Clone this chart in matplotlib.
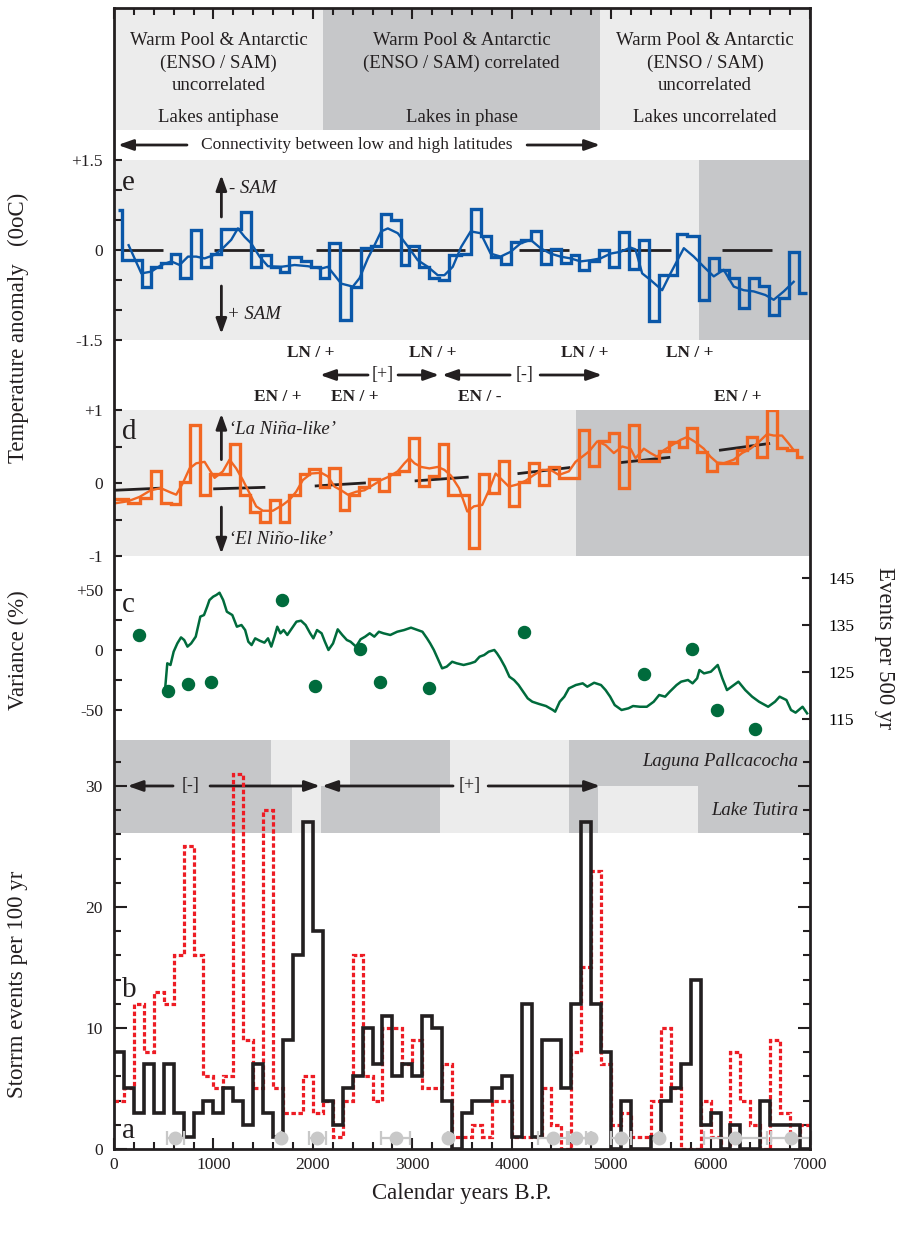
import numpy as np
import matplotlib
matplotlib.use("Agg")
import matplotlib.pyplot as plt
from matplotlib.ticker import FixedLocator, FixedFormatter

plt.rcParams["font.family"] = ["Liberation Serif", "DejaVu Serif"]

BLACK = "#231f20"
LIGHT = "#ececec"
DARK = "#c6c7c9"
BLUE = "#0a57a8"
ORANGE = "#f26722"
GREEN = "#006b3c"
RED = "#ed1c24"
GREY = "#c8c8c8"

# ---------------- header ----------------
head_edges = [0, 2100, 4890, 7000]
head_fill = [LIGHT, DARK, LIGHT]
head_text = ["Warm Pool & Antarctic\n(ENSO / SAM)\nuncorrelated",
             "Warm Pool & Antarctic\n(ENSO / SAM) correlated",
             "Warm Pool & Antarctic\n(ENSO / SAM)\nuncorrelated"]
head_lakes = ["Lakes antiphase", "Lakes in phase", "Lakes uncorrelated"]

# ---------------- e : SAM (blue) ----------------
e_edges = [40, 80, 280, 375, 476, 576, 660, 777, 878, 978, 1079, 1280, 1380, 1481,
           1581, 1665, 1765, 1883, 1983, 2067, 2167, 2268, 2385, 2486, 2586, 2687,
           2787, 2888, 2971, 3072, 3172, 3273, 3373, 3486, 3587, 3687, 3788, 3888,
           3989, 4089, 4190, 4290, 4391, 4491, 4592, 4675, 4776, 4876, 4977, 5077,
           5178, 5278, 5379, 5479, 5664, 5764, 5881, 5982, 6082, 6183, 6283, 6384,
           6484, 6585, 6685, 6786, 6886, 6970]
e_values = [0.67, -0.17, -0.61, -0.28, -0.22, -0.06, -0.46, 0.33, -0.29, -0.07,
            0.35, 0.64, -0.29, -0.08, -0.29, -0.37, -0.12, -0.19, -0.29, -0.47,
            0.11, -1.17, -0.61, 0.03, 0.07, 0.60, 0.50, -0.25, 0.07, -0.29,
            -0.46, -0.50, -0.08, -0.06, 0.69, 0.23, -0.12, -0.23, 0.14, 0.17,
            0.32, -0.23, 0.01, -0.22, -0.08, -0.33, -0.18, 0.00, -0.29, 0.30,
            -0.32, 0.16, -1.18, -0.41, 0.27, 0.23, -0.84, -0.14, -0.33, -0.47,
            -0.96, -0.47, -0.60, -1.09, -0.80, -0.03, -0.71]
e_smooth_yr = [147, 275, 375, 476, 576, 660, 744, 827, 911, 1012, 1095, 1179, 1246,
               1313, 1380, 1464, 1548, 1682, 1816, 1950, 2084, 2150, 2218, 2285,
               2402, 2469, 2553, 2620, 2687, 2754, 2854, 2955, 3055, 3156, 3256,
               3323, 3407, 3491, 3587, 3687, 3788, 3888, 3989, 4089, 4190, 4290,
               4391, 4491, 4592, 4692, 4793, 4893, 4994, 5094, 5195, 5245, 5312,
               5396, 5513, 5597, 5731, 5831, 5932, 6032, 6132, 6233, 6333, 6434,
               6551, 6635, 6736, 6836]
e_smooth = [0.08, -0.39, -0.36, -0.25, -0.19, -0.25, -0.11, -0.11, -0.14, -0.08,
            0.03, 0.17, 0.36, 0.22, 0.11, -0.11, -0.27, -0.28, -0.25, -0.27,
            -0.31, -0.28, -0.42, -0.56, -0.61, -0.47, -0.14, 0.08, 0.31, 0.36,
            0.28, 0.06, -0.17, -0.28, -0.42, -0.42, -0.28, 0.05, 0.31, 0.28,
            -0.06, -0.11, -0.03, 0.11, 0.17, 0.03, -0.06, -0.11, -0.14, -0.19,
            -0.17, -0.14, -0.06, -0.03, 0.04, 0.01, -0.39, -0.50, -0.67, -0.39,
            0.03, -0.11, -0.28, -0.44, -0.33, -0.61, -0.67, -0.69, -0.75, -0.83,
            -0.69, -0.53]
e_ref_start = [75, 1005, 2030, 4070, 5095, 6115]
e_ref_end = [490, 1510, 3530, 4575, 5600, 6620]
e_dark_from = 5880

# ---------------- d : ENSO (orange) ----------------
d_edges = [0, 141, 258, 369, 469, 570, 660, 760, 861, 961, 1162, 1263, 1363, 1464,
           1564, 1665, 1765, 1866, 1966, 2067, 2167, 2268, 2368, 2469, 2569, 2670,
           2770, 2871, 2971, 3072, 3172, 3273, 3357, 3570, 3670, 3771, 3871, 3972,
           4072, 4173, 4273, 4374, 4474, 4675, 4776, 4876, 4977, 5077, 5178, 5278,
           5479, 5580, 5680, 5764, 5865, 5965, 6066, 6267, 6367, 6468, 6568, 6669,
           6769, 6870, 6930]
d_values = [-0.22, -0.27, -0.21, 0.16, -0.27, -0.29, 0.01, 0.79, -0.16, 0.13,
            0.54, -0.16, -0.40, -0.54, -0.23, -0.53, -0.16, 0.13, 0.19, -0.06,
            0.21, -0.37, -0.17, -0.05, 0.05, -0.11, 0.13, 0.16, 0.61, -0.04,
            0.10, 0.54, -0.16, -0.89, 0.12, -0.14, 0.30, -0.31, 0.01, 0.27,
            -0.03, 0.22, 0.07, 0.73, 0.23, 0.57, 0.68, -0.07, 0.79, 0.30,
            0.44, 0.56, 0.50, 0.75, 0.42, 0.16, 0.27, 0.45, 0.63, 0.36,
            1.00, 0.48, 0.45, 0.35]
d_smooth_yr = [0, 141, 258, 369, 469, 570, 626, 693, 760, 827, 911, 961, 1012, 1095,
               1162, 1229, 1296, 1363, 1430, 1497, 1598, 1698, 1765, 1832, 1899,
               1983, 2084, 2151, 2218, 2285, 2352, 2435, 2519, 2603, 2687, 2770,
               2854, 2921, 2971, 3022, 3089, 3172, 3256, 3323, 3390, 3470, 3553,
               3620, 3704, 3771, 3838, 3905, 3972, 4056, 4139, 4223, 4307, 4391,
               4474, 4575, 4642, 4709, 4776, 4860, 4943, 5027, 5111, 5195, 5245,
               5329, 5396, 5463, 5530, 5613, 5697, 5764, 5848, 5932, 5999, 6066,
               6133, 6233, 6317, 6401, 6484, 6568, 6635, 6719, 6786, 6836]
d_smooth = [-0.28, -0.25, -0.19, -0.10, -0.07, -0.13, -0.16, 0.00, 0.20, 0.27,
            0.29, 0.18, 0.07, 0.16, 0.32, 0.20, 0.04, -0.14, -0.32, -0.38,
            -0.38, -0.30, -0.23, -0.12, 0.04, 0.13, 0.14, 0.09, -0.05, -0.10,
            -0.16, -0.12, -0.10, -0.03, 0.04, 0.09, 0.16, 0.27, 0.34, 0.27,
            0.22, 0.20, 0.22, 0.18, 0.10, -0.07, -0.39, -0.32, -0.30, -0.10,
            0.13, 0.04, -0.05, -0.02, 0.03, 0.11, 0.18, 0.18, 0.11, 0.16,
            0.29, 0.36, 0.43, 0.57, 0.52, 0.41, 0.50, 0.47, 0.34, 0.47,
            0.41, 0.36, 0.45, 0.52, 0.59, 0.63, 0.56, 0.47, 0.36, 0.28,
            0.27, 0.32, 0.41, 0.47, 0.56, 0.67, 0.65, 0.65, 0.54, 0.45]
d_trend_x0 = [0, 1012, 2033, 3038, 4072, 5094, 6099]
d_trend_x1 = [476, 1508, 2519, 3553, 4575, 5580, 6585]
d_trend_y0 = [-0.10, -0.08, -0.04, 0.03, 0.13, 0.28, 0.45]
d_trend_y1 = [-0.07, -0.06, 0.00, 0.08, 0.21, 0.35, 0.54]
d_dark_from = 4650

# ---------------- c : variance + events ----------------
var_yr = [513, 536, 568, 600, 637, 674, 706, 739, 776, 822, 868, 905, 937, 960, 997,
          1029, 1061, 1098, 1135, 1190, 1236, 1282, 1319, 1351, 1384, 1420, 1466,
          1513, 1549, 1582, 1614, 1642, 1674, 1706, 1743, 1789, 1835, 1881, 1927,
          1973, 2005, 2042, 2088, 2121, 2157, 2203, 2250, 2296, 2342, 2379, 2434,
          2480, 2526, 2572, 2618, 2664, 2710, 2779, 2848, 2917, 2987, 3056, 3102,
          3148, 3180, 3217, 3263, 3300, 3346, 3401, 3447, 3516, 3585, 3631, 3677,
          3723, 3769, 3825, 3852, 3885, 3931, 3977, 4023, 4069, 4115, 4161, 4207,
          4276, 4345, 4414, 4437, 4483, 4529, 4575, 4645, 4714, 4760, 4829, 4898,
          4944, 4990, 5036, 5105, 5174, 5220, 5290, 5359, 5428, 5483, 5543, 5589,
          5658, 5704, 5773, 5819, 5865, 5888, 5934, 6003, 6072, 6118, 6165, 6234,
          6280, 6349, 6418, 6487, 6579, 6648, 6694, 6763, 6809, 6855, 6925, 6971]
var_pct = [-33.4, -11.1, -12.5, -1.4, 5.5, 10.5, 8.3, 2.8, 5.5, 11.1,
           27.8, 29.1, 36.1, 41.6, 44.4, 45.8, 47.7, 41.6, 31.9, 29.1,
           19.4, 20.8, 16.6, 6.9, 4.1, 9.7, 7.7, 6.1, 9.7, 2.8,
           11.1, 19.4, 13.9, 16.6, 12.5, 18.0, 23.6, 24.4, 20.8, 13.9,
           9.7, 16.6, 13.9, 6.9, 0.0, 5.5, 17.2, 12.5, 8.3, 6.9,
           2.8, 8.9, 11.1, 13.9, 11.1, 15.2, 13.9, 12.5, 15.2, 16.6,
           18.6, 16.6, 15.2, 9.7, 5.5, 0.0, -8.4, -15.3, -13.9, -9.8,
           -11.1, -12.5, -11.1, -9.8, -5.6, -4.2, -1.4, 0.0, -2.8, -7.0,
           -13.9, -22.3, -25.0, -29.2, -34.8, -40.3, -43.1, -45.0, -46.7, -50.0,
           -51.4, -43.1, -38.9, -32.0, -29.2, -27.8, -30.6, -27.3, -29.2, -33.4,
           -38.9, -45.9, -50.0, -48.6, -46.7, -47.3, -47.3, -43.1, -37.5, -38.9,
           -34.8, -29.2, -26.4, -25.0, -27.8, -23.6, -16.7, -19.5, -18.1, -12.5,
           -23.6, -33.4, -29.2, -26.4, -33.4, -38.9, -43.1, -47.3, -43.1, -38.9,
           -41.7, -50.0, -52.2, -47.3, -52.8]
ev_yr = [256, 547, 748, 979, 1692, 2023, 2475, 2675, 3168, 4121, 5326, 5818, 6069, 6450]
ev_n = [132.9, 121.0, 122.4, 122.9, 140.3, 122.0, 129.9, 122.9, 121.6, 133.5,
        124.6, 129.9, 116.9, 112.9]

# ---------------- a / b : storm events per 100 yr ----------------
storm_edges = np.arange(0, 7001, 100)
storm_a = [8, 5, 3, 7, 3, 7, 3, 1, 3, 4,
           3, 5, 4, 2, 7, 3, 1, 9, 16, 27,
           18, 4, 2, 5, 6, 10, 7, 11, 6, 7,
           6, 11, 10, 4, 0, 3, 4, 4, 5, 6,
           1, 12, 1, 9, 9, 5, 12, 27, 12, 8,
           0, 4, 0, 0, 1, 4, 5, 7, 14, 2,
           3, 0, 2, 0, 0, 4, 2, 2, 2, 0]
storm_b = [4, 5, 12, 8, 13, 12, 16, 25, 16, 6,
           5, 6, 31, 9, 5, 28, 5, 3, 3, 6,
           3, 4, 1, 4, 16, 6, 4, 10, 10, 7,
           9, 5, 5, 7, 1, 1, 2, 1, 4, 4,
           1, 1, 1, 5, 2, 0, 8, 15, 23, 7,
           2, 3, 1, 1, 4, 10, 5, 0, 0, 4,
           1, 0, 8, 4, 2, 0, 9, 3, 1, 2]
date_yr = [615, 1680, 2045, 2835, 3360, 4420, 4650, 4800, 5100, 5485, 6250, 6810]
date_err = [85, 0, 85, 145, 0, 160, 95, 0, 100, 0, 320, 200]
date_level = 0.9

pall_edges = [0, 1580, 2375, 3380, 4575, 7000]
pall_fill = [DARK, LIGHT, DARK, LIGHT, DARK]
tut_edges = [0, 1790, 2080, 3280, 4575, 4865, 5870, 7000]
tut_fill = [DARK, LIGHT, DARK, LIGHT, DARK, LIGHT, DARK]

# ---------------- phase labels ----------------
ln_yr = [1982, 3209, 4738, 5795]
en_yr = [1650, 2425, 3682, 6278]
en_txt = ["EN / +", "EN / +", "EN / -", "EN / +"]

# ---------------- layout (pixels of the 904 x 1233 canvas) ----------------
W, H = 904, 1233
L, R = 114, 810
fig = plt.figure(figsize=(W / 100, H / 100), dpi=100)


def panel(y0, y1):
    ax = fig.add_axes([L / W, 1 - y1 / H, (R - L) / W, (y1 - y0) / H])
    ax.set_xlim(0, 7000)
    ax.patch.set_alpha(0)
    for s in ax.spines.values():
        s.set_visible(False)
    ax.set_xticks([])
    ax.set_yticks([])
    ax.tick_params(which="both", direction="in", length=6, width=1.5, color=BLACK,
                   labelsize=12.5, pad=8, labelcolor=BLACK)
    return ax


def arrow(ax, x_from, y_from, x_to, y_to):
    ax.annotate("", xy=(x_to, y_to), xytext=(x_from, y_from),
                arrowprops=dict(arrowstyle="-|>,head_length=0.9,head_width=0.32",
                                mutation_scale=10, lw=2.0, color=BLACK,
                                shrinkA=0, shrinkB=0), annotation_clip=False)


def yticks(ax, ticks, labels):
    ax.yaxis.set_major_locator(FixedLocator(ticks))
    ax.yaxis.set_major_formatter(FixedFormatter(labels))


def year_ticks(ax):
    ax.xaxis.set_major_locator(FixedLocator(np.arange(0, 7001, 1000)))
    ax.xaxis.set_minor_locator(FixedLocator(np.arange(0, 7001, 200)))
    ax.tick_params(axis="x", which="major", length=8)
    ax.tick_params(axis="x", which="minor", length=5)


# header
ax_h = panel(8, 130)
ax_h.set_ylim(0, 1)
for i in range(3):
    ax_h.axvspan(head_edges[i], head_edges[i + 1], color=head_fill[i], lw=0)
    mid = (head_edges[i] + head_edges[i + 1]) / 2
    ax_h.text(mid, 0.80, head_text[i], ha="center", va="top", fontsize=13.5,
              linespacing=1.4, color=BLACK)
    ax_h.text(mid, 0.10, head_lakes[i], ha="center", va="center", fontsize=13.5,
              color=BLACK)
ax_h.xaxis.tick_top()
year_ticks(ax_h)
ax_h.tick_params(axis="x", which="both", labeltop=False)

# connectivity row
ax_k = panel(130, 160)
ax_k.set_ylim(0, 1)
ax_k.text(2445, 0.5, "Connectivity between low and high latitudes", ha="center",
          va="center", fontsize=12.5, color=BLACK)
arrow(ax_k, 734, 0.5, 40, 0.5)
arrow(ax_k, 4155, 0.5, 4889, 0.5)

# e
ax_e = panel(160, 340)
ax_e.set_ylim(-1.5, 1.5)
ax_e.axvspan(0, e_dark_from, color=LIGHT, lw=0, zorder=0)
ax_e.axvspan(e_dark_from, 7000, color=DARK, lw=0, zorder=0)
ax_e.hlines([0] * len(e_ref_start), e_ref_start, e_ref_end, color=BLACK, lw=2.0,
            zorder=1)
ax_e.stairs(e_values, e_edges, baseline=None, color=BLUE, lw=2.4, zorder=2)
ax_e.plot(e_smooth_yr, e_smooth, color=BLUE, lw=1.7, zorder=3)
yticks(ax_e, [-1.5, -1, -0.5, 0, 0.5, 1, 1.5], ["-1.5", "", "", "0", "", "", "+1.5"])
ax_e.text(80, 1.12, "e", fontsize=21, ha="left", va="center", color=BLACK)
arrow(ax_e, 1080, 0.55, 1080, 1.25)
arrow(ax_e, 1080, -0.6, 1080, -1.4)
ax_e.text(1160, 1.03, "- SAM", style="italic", fontsize=13.5, va="center", color=BLACK)
ax_e.text(1140, -1.08, "+ SAM", style="italic", fontsize=13.5, va="center", color=BLACK)

# phase labels between e and d
ax_m = panel(340, 410)
ax_m.set_ylim(0, 1)
for x in ln_yr:
    ax_m.text(x, 0.81, "LN / +", ha="center", va="center", fontsize=12.5,
              weight="bold", color=BLACK)
for x, t in zip(en_yr, en_txt):
    ax_m.text(x, 0.19, t, ha="center", va="center", fontsize=12.5,
              weight="bold", color=BLACK)
ax_m.text(2706, 0.5, "[+]", ha="center", va="center", fontsize=13, color=BLACK)
ax_m.text(4125, 0.5, "[-]", ha="center", va="center", fontsize=13, color=BLACK)
arrow(ax_m, 2555, 0.5, 2072, 0.5)
arrow(ax_m, 2857, 0.5, 3270, 0.5)
arrow(ax_m, 3984, 0.5, 3300, 0.5)
arrow(ax_m, 4286, 0.5, 4909, 0.5)

# d
ax_d = panel(410, 556)
ax_d.set_ylim(-1, 1)
ax_d.axvspan(0, d_dark_from, color=LIGHT, lw=0, zorder=0)
ax_d.axvspan(d_dark_from, 7000, color=DARK, lw=0, zorder=0)
for x0, x1, y0, y1 in zip(d_trend_x0, d_trend_x1, d_trend_y0, d_trend_y1):
    ax_d.plot([x0, x1], [y0, y1], color=BLACK, lw=2.0, zorder=1)
ax_d.stairs(d_values, d_edges, baseline=None, color=ORANGE, lw=2.4, zorder=2)
ax_d.plot(d_smooth_yr, d_smooth, color=ORANGE, lw=1.7, zorder=3)
yticks(ax_d, [-1, -0.5, 0, 0.5, 1], ["-1", "", "0", "", "+1"])
ax_d.text(80, 0.70, "d", fontsize=21, ha="left", va="center", color=BLACK)
arrow(ax_d, 1080, 0.32, 1080, 0.95)
arrow(ax_d, 1080, -0.33, 1080, -0.97)
ax_d.text(1160, 0.73, "‘La Niña-like’", style="italic", fontsize=13.5, va="center",
          color=BLACK)
ax_d.text(1160, -0.78, "‘El Niño-like’", style="italic", fontsize=13.5, va="center",
          color=BLACK)

# c
ax_c = panel(556, 740)
ax_c.set_ylim(-75, 78.3)
ax_c.plot(var_yr, var_pct, color=GREEN, lw=1.8, zorder=2)
yticks(ax_c, [-50, -25, 0, 25, 50], ["-50", "", "0", "", "+50"])
ax_c.text(80, 37.5, "c", fontsize=21, ha="left", va="center", color=BLACK)
ax_c2 = ax_c.twinx()
for s in ax_c2.spines.values():
    s.set_visible(False)
ax_c2.patch.set_alpha(0)
ax_c2.set_ylim(110.5, 149.7)
ax_c2.scatter(ev_yr, ev_n, s=75, color=GREEN, zorder=3, clip_on=False)
ax_c2.yaxis.set_major_locator(FixedLocator([115, 125, 135, 145]))
ax_c2.tick_params(axis="y", direction="in", length=6, width=1.5, color=BLACK,
                  labelsize=12.5, pad=13)

# a / b storms
ax_s = panel(740, 1149)
ax_s.set_ylim(0, 33.8)
ax_s.broken_barh([(a, b - a) for a, b in zip(pall_edges[:-1], pall_edges[1:])],
                 (30, 3.8), facecolors=pall_fill, lw=0, zorder=0)
ax_s.broken_barh([(a, b - a) for a, b in zip(tut_edges[:-1], tut_edges[1:])],
                 (26.1, 3.9), facecolors=tut_fill, lw=0, zorder=0)
ax_s.text(6880, 32.0, "Laguna Pallcacocha", style="italic", fontsize=13.5,
          ha="right", va="center", color=BLACK)
ax_s.text(6880, 28.0, "Lake Tutira", style="italic", fontsize=13.5,
          ha="right", va="center", color=BLACK)
ax_s.text(775, 30, "[-]", ha="center", va="center", fontsize=13, color=BLACK)
ax_s.text(3581, 30, "[+]", ha="center", va="center", fontsize=13, color=BLACK)
arrow(ax_s, 594, 30, 136, 30)
arrow(ax_s, 966, 30, 2072, 30)
arrow(ax_s, 3410, 30, 2093, 30)
arrow(ax_s, 3763, 30, 4889, 30)
ax_s.stairs(storm_b, storm_edges, baseline=None, color=RED, lw=2.3,
            linestyle=(0, (1.4, 0.8)), zorder=3)
ax_s.stairs(storm_a, storm_edges, baseline=None, color=BLACK, lw=2.6, zorder=4)
ax_s.errorbar(date_yr, [date_level] * len(date_yr), xerr=date_err, fmt="o", color=GREY,
              ms=9, elinewidth=1.6, capsize=5, capthick=1.6, zorder=5, clip_on=False)
ax_s.text(80, 13.1, "b", fontsize=21, ha="left", va="center", color=BLACK)
ax_s.text(80, 1.5, "a", fontsize=21, ha="left", va="center", color=BLACK)
ax_s.yaxis.set_major_locator(FixedLocator([0, 10, 20, 30]))
ax_s.yaxis.set_minor_locator(FixedLocator(np.arange(0, 33, 2)))
ax_s.tick_params(axis="y", which="major", length=9, right=True)
ax_s.tick_params(axis="y", which="minor", length=5, right=True)
year_ticks(ax_s)
ax_s.tick_params(axis="x", which="both", pad=6)

# outer frame
ax_f = fig.add_axes([L / W, 1 - 1149 / H, (R - L) / W, (1149 - 8) / H])
ax_f.patch.set_alpha(0)
ax_f.set_xticks([])
ax_f.set_yticks([])
for s in ax_f.spines.values():
    s.set_linewidth(2.0)
    s.set_color(BLACK)

# axis titles
fig.text(18 / W, 1 - 328 / H, "Temperature anomaly   (0oC)", rotation=90, ha="center",
         va="center", fontsize=16.5, color=BLACK)
fig.text(18 / W, 1 - 650 / H, "Variance (%)", rotation=90, ha="center", va="center",
         fontsize=16.5, color=BLACK)
fig.text(18 / W, 1 - 984 / H, "Storrm events per 100 yr", rotation=90, ha="center",
         va="center", fontsize=16.5, color=BLACK)
fig.text(885 / W, 1 - 648 / H, "Events per 500 yr", rotation=-90, ha="center",
         va="center", fontsize=16.5, color=BLACK)
fig.text(462 / W, 1 - 1193 / H, "Calendar years B.P.", ha="center", va="center",
         fontsize=16.5, color=BLACK)

fig.savefig("out.png", dpi=100, facecolor="white")
